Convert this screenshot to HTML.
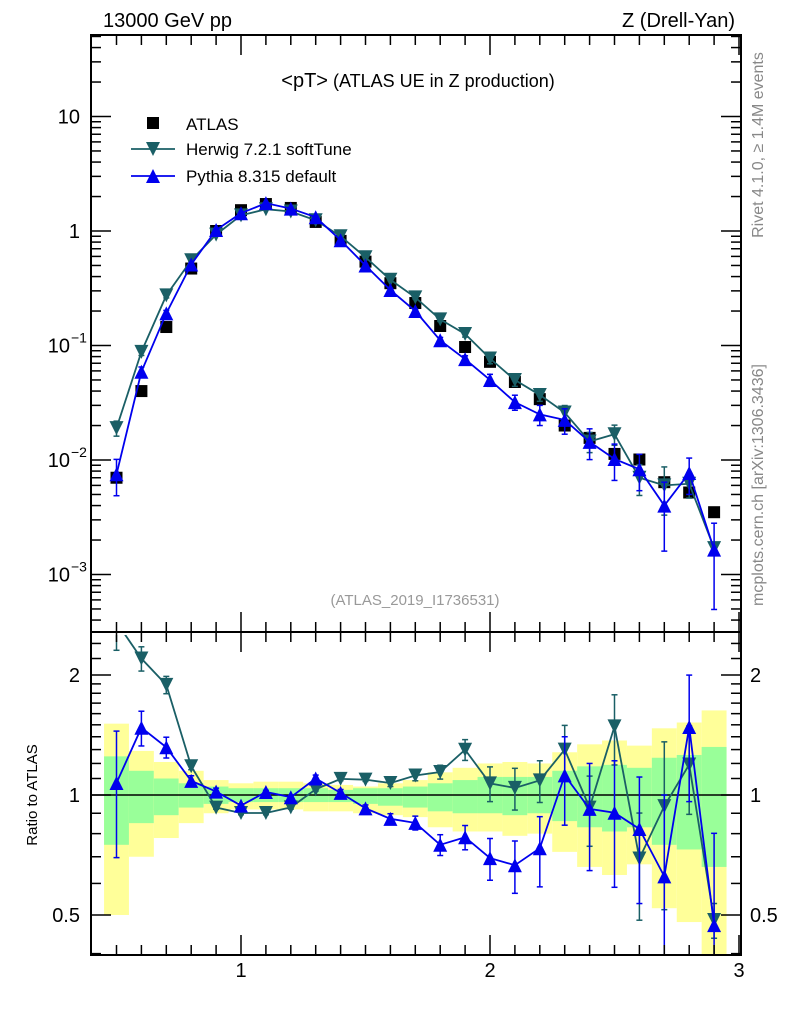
<!DOCTYPE html>
<html><head><meta charset="utf-8"><style>
html,body{margin:0;padding:0;background:#fff;width:786px;height:1024px;overflow:hidden;}
svg{display:block;font-family:"Liberation Sans","DejaVu Sans",sans-serif;overflow:hidden;}
</style></head><body>
<svg id="c" width="786" height="1024" viewBox="0 0 786 1024" xmlns="http://www.w3.org/2000/svg"></svg>
<script>
const xs=[0.5,0.6,0.7,0.8,0.9,1.0,1.1,1.2,1.3,1.4,1.5,1.6,1.7,1.8,1.9,2.0,2.1,2.2,2.3,2.4,2.5,2.6,2.7,2.8,2.9];
const atlas=[0.007,0.040,0.145,0.47,1.0,1.52,1.72,1.59,1.2,0.82,0.54,0.35,0.235,0.148,0.097,0.072,0.048,0.034,0.020,0.0156,0.0113,0.0101,0.0064,0.0052,0.0035];
const herwig=[0.019,0.088,0.274,0.555,0.93,1.37,1.55,1.48,1.24,0.90,0.59,0.375,0.263,0.169,0.126,0.077,0.050,0.037,0.026,0.0145,0.0168,0.0070,0.0060,0.0062,0.0017];
const pythia=[0.0075,0.059,0.191,0.51,1.02,1.43,1.75,1.57,1.32,0.83,0.50,0.305,0.20,0.111,0.076,0.050,0.032,0.025,0.0224,0.0144,0.0102,0.0083,0.0040,0.0077,0.00165];
const herwigErr=[0.15,0.07,0.05,0.02,0.01,0.01,0.01,0.01,0.01,0.01,0.01,0.02,0.03,0.04,0.06,0.1,0.12,0.12,0.15,0.2,0.2,0.3,0.45,0.25,0.1];
const pythiaErr=[0.35,0.1,0.06,0.03,0.02,0.01,0.01,0.01,0.02,0.02,0.02,0.03,0.04,0.06,0.07,0.12,0.15,0.2,0.25,0.3,0.35,0.35,0.6,0.35,0.7];
const yelHi=[1.51,1.29,1.21,1.15,1.09,1.07,1.08,1.08,1.07,1.06,1.05,1.07,1.09,1.14,1.17,1.20,1.21,1.20,1.28,1.34,1.37,1.33,1.47,1.52,1.63];
const yelLo=[0.50,0.70,0.78,0.85,0.90,0.92,0.92,0.92,0.91,0.91,0.90,0.89,0.88,0.83,0.81,0.81,0.79,0.80,0.72,0.66,0.63,0.67,0.52,0.48,0.38];
const grnHi=[1.25,1.15,1.10,1.07,1.05,1.04,1.04,1.04,1.04,1.03,1.04,1.04,1.05,1.07,1.09,1.11,1.11,1.11,1.15,1.18,1.19,1.17,1.24,1.26,1.32];
const grnLo=[0.75,0.85,0.89,0.93,0.95,0.96,0.96,0.96,0.96,0.96,0.95,0.94,0.93,0.91,0.90,0.90,0.89,0.90,0.86,0.83,0.81,0.83,0.75,0.73,0.66];
const mainTicks=[{v:10,t:"10"},{v:1,t:"1"},{v:0.1,t:"10",e:"−1"},{v:0.01,t:"10",e:"−2"},{v:0.001,t:"10",e:"−3"}];
const ratioTicks=[{v:2,t:"2"},{v:1,t:"1"},{v:0.5,t:"0.5"}];
const xTicks=[1,2,3];

const L=91,R=741,T=35,MB=632,RT=635,RB=955;
const X=v=>241+(v-1)*249;
const Y=v=>231-Math.log10(v)*114.5;
const YR=v=>795-Math.log10(v)*398.6;
const svg=document.getElementById('c');
const NS="http://www.w3.org/2000/svg";
function el(tag,a,parent){const e=document.createElementNS(NS,tag);for(const k in a)e.setAttribute(k,a[k]);(parent||svg).appendChild(e);return e;}
function txt(x,y,s,a,parent){const e=el('text',Object.assign({x:x,y:y,'font-size':20,fill:'#000'},a||{}),parent);e.textContent=s;return e;}

const bands=el('g',{});


xs.forEach((x,i)=>{
  const x0=X(x-0.05),x1=X(x+0.05);
  const clipLo=v=>Math.min(RB,YR(v)),clipHi=v=>Math.max(RT,YR(v));
  const r=el('rect',{x:x0,y:clipHi(yelHi[i]),width:x1-x0,height:clipLo(yelLo[i])-clipHi(yelHi[i]),fill:'#ffff99'},bands);
  
  
  const g=el('rect',{x:x0,y:clipHi(grnHi[i]),width:x1-x0,height:clipLo(grnLo[i])-clipHi(grnHi[i]),fill:'#99ff99'},bands);
  
  
});
el('line',{x1:L,x2:R,y1:YR(1),y2:YR(1),stroke:'#000','stroke-width':1.5});

const defs=el('defs',{});
const cp1=el('clipPath',{id:'cm'},defs);el('rect',{x:L,y:T,width:R-L,height:MB-T},cp1);
const cp2=el('clipPath',{id:'cr'},defs);el('rect',{x:L,y:RT,width:R-L,height:RB-RT},cp2);

function tri(g,x,y,down,col){const s=7;const p=down?`${x-s},${y-s} ${x+s},${y-s} ${x},${y+s}`:`${x-s},${y+s} ${x+s},${y+s} ${x},${y-s}`;const e=el('polygon',{points:p,fill:col},g);return e;}
function series(vals,errs,col,down,ratio,name){
  const g=el('g',{'clip-path':ratio?'url(#cr)':'url(#cm)'});
  
  
  const yf=ratio?YR:Y;
  const v=vals.map((m,i)=>ratio?m/atlas[i]:m);
  el('polyline',{points:xs.map((x,i)=>X(x)+','+yf(v[i])).join(' '),fill:'none',stroke:col,'stroke-width':1.8},g);
  xs.forEach((x,i)=>{
    const hi=yf(v[i]*(1+errs[i])),lo=yf(v[i]*Math.max(0.01,1-errs[i]));
    el('line',{x1:X(x),x2:X(x),y1:hi,y2:lo,stroke:col,'stroke-width':1.5},g);
    el('line',{x1:X(x)-3,x2:X(x)+3,y1:hi,y2:hi,stroke:col,'stroke-width':1.5},g);
    el('line',{x1:X(x)-3,x2:X(x)+3,y1:lo,y2:lo,stroke:col,'stroke-width':1.5},g);
    const m=tri(g,X(x),yf(v[i]),down,col);
    
    
  });
}
const dg=el('g',{'clip-path':'url(#cm)'});


xs.forEach((x,i)=>{
  const r=el('rect',{x:X(x)-6,y:Y(atlas[i])-6,width:12,height:12,fill:'#000'},dg);
  
  
});
series(herwig,herwigErr,'#1a5f66',true,false,'herwig-series');
series(pythia,pythiaErr,'#0000ee',false,false,'pythia-series');
series(herwig,herwigErr,'#1a5f66',true,true,'herwig-ratio');
series(pythia,pythiaErr,'#0000ee',false,true,'pythia-ratio');

el('rect',{x:L,y:T,width:R-L,height:MB-T,fill:'none',stroke:'#000','stroke-width':2});
el('rect',{x:L,y:RT-3,width:R-L,height:RB-RT+3,fill:'none',stroke:'#000','stroke-width':2});

for(let d=-4;d<=1;d++){for(let k=1;k<10;k++){const v=k*Math.pow(10,d);const y=Y(v);if(y<T||y>MB)continue;const len=k==1?20:10;
 el('line',{x1:L,x2:L+len,y1:y,y2:y,stroke:'#000','stroke-width':1.5});el('line',{x1:R-len,x2:R,y1:y,y2:y,stroke:'#000','stroke-width':1.5});}}
mainTicks.forEach(t=>{const e=txt(t.e?70:80,Y(t.v)+7,t.t,{'text-anchor':'end'});
 if(t.e){const s=txt(71,Y(t.v)-3,t.e,{'font-size':14});}});
[0.4,0.5,0.6,0.7,0.8,0.9,1,1.1,1.2,1.3,1.4,1.5,1.6,1.7,1.8,1.9,2,2.2,2.4].forEach(v=>{const y=YR(v);if(y<RT||y>RB)return;const len=(v==0.5||v==1||v==2)?20:10;
 el('line',{x1:L,x2:L+len,y1:y,y2:y,stroke:'#000','stroke-width':1.5});el('line',{x1:R-len,x2:R,y1:y,y2:y,stroke:'#000','stroke-width':1.5});});
ratioTicks.forEach(t=>{const a=txt(80,YR(t.v)+7,t.t,{'text-anchor':'end'});
 const b=txt(750,YR(t.v)+7,t.t);});
for(let i=5;i<=30;i++){const v=i/10,x=X(v);const major=i%10==0;const len=major?20:10;
 [[MB,MB-len],[T,T+len],[RB,RB-len],[RT-3,RT-3+len]].forEach(p=>el('line',{x1:x,x2:x,y1:p[0],y2:p[1],stroke:'#000','stroke-width':1.5}));}
xTicks.forEach(v=>{const e=txt(X(v),977,String(v),{'text-anchor':'middle'});});

let e;
e=txt(103,27,'13000 GeV pp');
e=txt(735,27,'Z (Drell-Yan)',{'text-anchor':'end'});
e=txt(418,87,'',{'text-anchor':'middle','font-size':18});e.innerHTML='<tspan font-size="20">&lt;pT&gt;</tspan> (ATLAS UE in Z production)';
e=txt(415,605,'(ATLAS_2019_I1736531)',{'text-anchor':'middle','font-size':15,fill:'#999'});
e=txt(0,0,'Rivet 4.1.0, ≥ 1.4M events',{'text-anchor':'middle','font-size':16,fill:'#888',transform:'translate(763,145) rotate(-90)'});
e=txt(0,0,'mcplots.cern.ch [arXiv:1306.3436]',{'text-anchor':'middle','font-size':16,fill:'#888',transform:'translate(763,485) rotate(-90)'});
e=txt(0,0,'Ratio to ATLAS',{'text-anchor':'middle','font-size':15,transform:'translate(37,795) rotate(-90)'});

const lg=el('g',{});


el('rect',{x:147,y:117,width:12,height:12,fill:'#000'},lg);
txt(186,130,'ATLAS',{'font-size':17},lg);
el('line',{x1:131,x2:175,y1:149,y2:149,stroke:'#1a5f66','stroke-width':1.8},lg);tri(lg,153,149,true,'#1a5f66');
txt(186,155,'Herwig 7.2.1 softTune',{'font-size':17},lg);
el('line',{x1:131,x2:175,y1:176,y2:176,stroke:'#0000ee','stroke-width':1.8},lg);tri(lg,153,176,false,'#0000ee');
txt(186,182,'Pythia 8.315 default',{'font-size':17},lg);
</script>
</body></html>
